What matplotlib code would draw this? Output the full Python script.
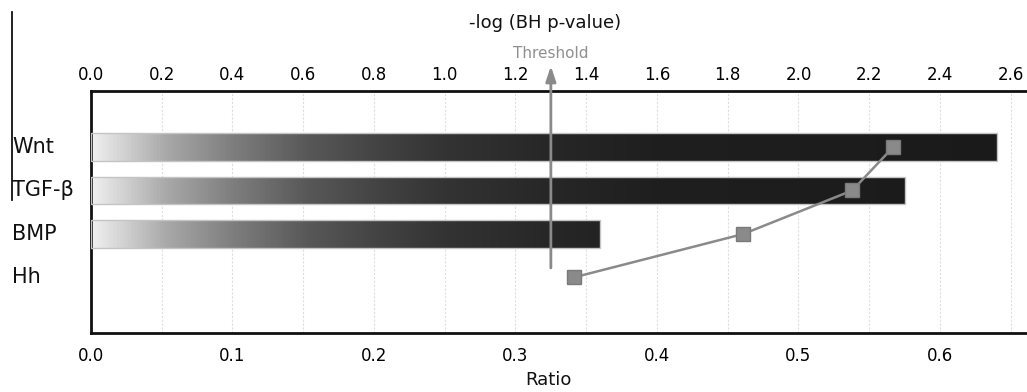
import numpy as np
import matplotlib
matplotlib.use("Agg")
import matplotlib.pyplot as plt
import matplotlib.transforms as mtransforms
from matplotlib.colors import LinearSegmentedColormap
from matplotlib.patches import Rectangle
from matplotlib.lines import Line2D

# data
pathways = ["Wnt", "TGF-\u03b2", "BMP", "Hh"]
neg_log_p = [2.56, 2.30, 1.44, 0.0]      # bars, top axis
ratio = [0.567, 0.538, 0.461, 0.341]     # squares, bottom axis
threshold = 1.30

top_ticks = [0.0, 0.2, 0.4, 0.6, 0.8, 1.0, 1.2, 1.4, 1.6, 1.8, 2.0, 2.2, 2.4, 2.6]
bottom_ticks = [0.0, 0.1, 0.2, 0.3, 0.4, 0.5, 0.6]

W, H = 1027, 392
fig = plt.figure(figsize=(W / 100, H / 100), dpi=100)
plt.rcParams['font.family'] = ['DejaVu Sans']

ax_l, ax_r, ax_t, ax_b = 91, 1027, 91, 333
ax = fig.add_axes([ax_l / W, 1 - ax_b / H, (ax_r - ax_l) / W, (ax_b - ax_t) / H])

xmax = 2.646
ylims = (4.276, -1.287)

# gradient bars (light -> near black), clipped to each bar
bar_cmap = LinearSegmentedColormap.from_list(
    "bar", [(0.0, "#efefef"), (0.08, "#a8a8a8"), (0.15, "#7e7e7e"),
            (0.23, "#585858"), (0.31, "#424242"), (0.38, "#333333"),
            (0.49, "#272727"), (0.60, "#1f1f1f"), (1.0, "#1a1a1a")])
grad = np.linspace(0, 1, 512).reshape(1, -1)
bar_h = 0.64
for i, v in enumerate(neg_log_p):
    if v <= 0:
        continue
    rect = Rectangle((0, i - bar_h / 2), v, bar_h, facecolor="none",
                     edgecolor="#c4c4c4", lw=1.0, zorder=3)
    ax.add_patch(rect)
    im = ax.imshow(grad, cmap=bar_cmap, aspect="auto",
                   extent=(0, xmax, i + bar_h / 2, i - bar_h / 2),
                   interpolation="bilinear", zorder=2)
    im.set_clip_path(rect)
ax.set_xlim(0, xmax)
ax.set_ylim(*ylims)

ax.set_yticks([])
ax.grid(axis="x", color="#dedede", lw=0.8, linestyle=(0, (2, 1.5)), zorder=0)
ax.set_axisbelow(True)
for s in ["top", "bottom", "left"]:
    ax.spines[s].set_linewidth(2)
    ax.spines[s].set_color("#111111")
ax.spines["right"].set_visible(False)

# threshold arrow
ax.annotate("", xy=(threshold, 1.103), xycoords=ax.get_xaxis_transform(),
            xytext=(threshold, 2.78), textcoords="data",
            arrowprops=dict(arrowstyle="-|>,head_length=0.9,head_width=0.3",
                            color="#8a8a8a", lw=2, shrinkA=0, shrinkB=0),
            annotation_clip=False, zorder=5)
ax.text(threshold, 1.153, "Threshold", transform=ax.get_xaxis_transform(),
        ha="center", va="center", fontsize=11, color="#8f8f8f")

# ratio on bottom axis
ax2 = ax.twiny()
ax2.set_xlim(0, xmax / 4)
ax2.set_ylim(*ylims)
ax2.xaxis.set_ticks_position("bottom")
ax2.xaxis.set_label_position("bottom")
ax2.set_xticks(bottom_ticks)
ax2.set_xticklabels([f"{t:.1f}" for t in bottom_ticks], fontsize=12)
ax2.tick_params(axis="x", length=0, pad=10)
for s in ax2.spines.values():
    s.set_visible(False)
ax2.plot(ratio, range(len(ratio)), color="#8a8a8a", lw=1.8, marker="s",
         markersize=10, markerfacecolor="#8a8a8a", markeredgecolor="#7a7a7a",
         zorder=6, clip_on=False)

# top axis (set after twiny, which moves it)
ax.xaxis.set_ticks_position("top")
ax.xaxis.set_label_position("top")
ax.set_xticks(top_ticks)
ax.set_xticklabels([f"{t:.1f}" for t in top_ticks], fontsize=12)
ax.tick_params(axis="x", length=0, pad=5, labeltop=True, labelbottom=False)

# category labels
trans = mtransforms.blended_transform_factory(fig.transFigure, ax.transData)
for i, name in enumerate(pathways):
    ax.text(12 / W, i, name, transform=trans, ha="left", va="center",
            fontsize=15, color="#111111")

fig.text(545 / W, 1 - 23 / H, "-log (BH p-value)", ha="center", va="center",
         fontsize=13, color="#111111")
fig.text(548 / W, 1 - 380 / H, "Ratio", ha="center", va="center",
         fontsize=13, color="#111111")

fig.add_artist(Line2D([12 / W, 12 / W], [1 - 12 / H, 1 - 200 / H],
                      transform=fig.transFigure, color="#111111", lw=1.3))

fig.savefig("out.png", dpi=100)
